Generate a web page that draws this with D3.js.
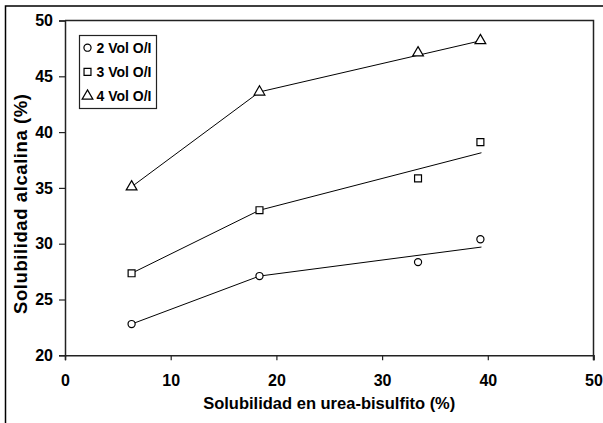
<!DOCTYPE html>
<html>
<head>
<meta charset="utf-8">
<script src="https://cdn.jsdelivr.net/npm/d3@7"></script>
<style>
  body { margin: 0; background: #fff; }
  svg text { font-family: Arial, 'Liberation Sans', sans-serif; font-weight: bold; fill: #000; }
</style>
</head>
<body>
<script>
// datos
let xVals = [6.3, 18.4, 33.4, 39.3];
let vol2 = [22.8, 27.1, 28.35, 30.4];
let vol3 = [27.35, 33.0, 35.85, 39.1];
let vol4 = [35.1, 43.6, 47.1, 48.2];

// lineas de ajuste
let fitX = [6.3, 18.4, 39.4];
let fit2 = [22.8, 27.1, 29.7];
let fit3 = [27.35, 33.0, 38.15];
let fit4 = [35.1, 43.6, 48.2];

let xTicks = [0, 10, 20, 30, 40, 50];
let yTicks = [20, 25, 30, 35, 40, 45, 50];
let seriesNames = ['2 Vol O/I', '3 Vol O/I', '4 Vol O/I'];

const W = 603, H = 423;
const pLeft = 65, pRight = 593.5, pTop = 20.5, pBottom = 355.3;

let svg = d3.select('body').append('svg')
  .attr('width', W)
  .attr('height', H);

// borde exterior
svg.append('rect')
  .attr('x', 5.5).attr('y', 6)
  .attr('width', 610).attr('height', 430)
  .attr('fill', 'none')
  .attr('stroke', '#000')
  .attr('stroke-width', 1.5);

let x = d3.scaleLinear().domain([0, 50]).range([pLeft, pRight]);
let y = d3.scaleLinear().domain([20, 50]).range([pBottom, pTop]);

// marco del grafico
svg.append('path')
  .attr('d', `M${pLeft},${pTop}H${pRight}V${pBottom + 5}`)
  .attr('fill', 'none')
  .attr('stroke', '#222')
  .attr('stroke-width', 1.5);

let xAxis = svg.append('g')
  .attr('transform', `translate(0,${pBottom})`)
  .call(d3.axisBottom(x).tickValues(xTicks).tickSize(5).tickPadding(14));

let yAxis = svg.append('g')
  .attr('transform', `translate(${pLeft},0)`)
  .call(d3.axisLeft(y).tickValues(yTicks).tickSize(6).tickPadding(6));

[xAxis, yAxis].forEach(a => {
  a.select('.domain').attr('stroke', '#222').attr('stroke-width', 1.5);
  a.selectAll('.tick line').attr('stroke', '#222').attr('stroke-width', 1.2);
  a.selectAll('.tick text')
    .style('font-size', '16px')
    .style('font-family', 'Arial, "Liberation Sans", sans-serif')
    .style('font-weight', 'bold')
    .attr('fill', '#000');
});

svg.append('text')
  .attr('x', (pLeft + pRight) / 2)
  .attr('y', 409)
  .attr('text-anchor', 'middle')
  .style('font-size', '16.5px')
  .text('Solubilidad en urea-bisulfito (%)');

svg.append('text')
  .attr('transform', 'translate(27,204) rotate(-90)')
  .attr('text-anchor', 'middle')
  .attr('textLength', 220)
  .attr('lengthAdjust', 'spacing')
  .style('font-size', '18.5px')
  .text('Solubilidad alcalina (%)');

let line = d3.line()
  .x(d => x(d[0]))
  .y(d => y(d[1]));

[fit2, fit3, fit4].forEach(fit => {
  svg.append('path')
    .datum(fitX.map((v, i) => [v, fit[i]]))
    .attr('d', line)
    .attr('fill', 'none')
    .attr('stroke', '#000')
    .attr('stroke-width', 1);
});

let shapes = [d3.symbolCircle, d3.symbolSquare, d3.symbolTriangle];
let sizes = [40, 48, 50];

[vol2, vol3, vol4].forEach((serie, k) => {
  svg.append('g')
    .selectAll('path')
    .data(xVals.map((v, i) => [v, serie[i]]))
    .enter()
      .append('path')
      .attr('d', d3.symbol().type(shapes[k]).size(sizes[k]))
      .attr('transform', d => `translate(${x(d[0])},${y(d[1])})`)
      .attr('fill', '#fff')
      .attr('stroke', '#000')
      .attr('stroke-width', 1.2);
});

// leyenda
let legend = svg.append('g');

legend.append('rect')
  .attr('x', 79.5).attr('y', 35.5)
  .attr('width', 77).attr('height', 73)
  .attr('fill', '#fff')
  .attr('stroke', '#222')
  .attr('stroke-width', 1.2);

seriesNames.forEach((name, k) => {
  let cy = 47.7 + k * 24.2;
  legend.append('path')
    .attr('d', d3.symbol().type(shapes[k]).size(sizes[k]))
    .attr('transform', `translate(87.5,${cy})`)
    .attr('fill', '#fff')
    .attr('stroke', '#000')
    .attr('stroke-width', 1.2);
  legend.append('text')
    .attr('x', 96.5)
    .attr('y', cy + 5)
    .style('font-size', '14px')
    .text(name);
});
</script>
</body>
</html>
